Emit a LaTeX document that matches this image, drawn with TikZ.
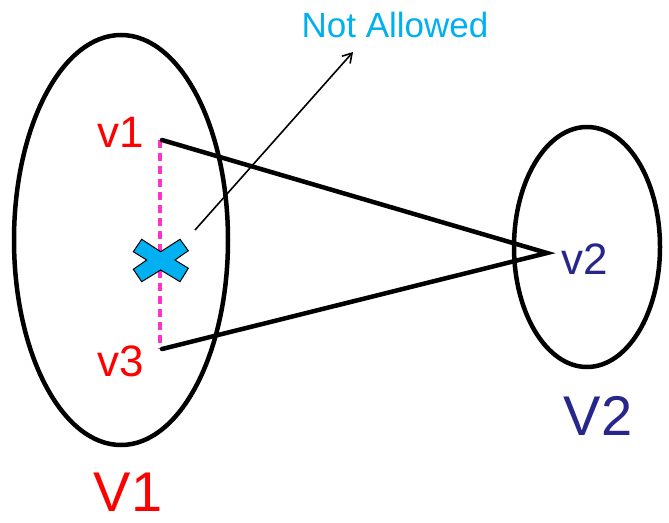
\documentclass[tikz,border=0pt]{standalone}
\usepackage{fontspec}
\setmainfont{Liberation Sans}
\usetikzlibrary{arrows.meta}
\definecolor{vred}{RGB}{255,0,0}
\definecolor{vnavy}{RGB}{38,38,140}
\definecolor{xcyan}{RGB}{0,176,240}
\definecolor{dmag}{RGB}{255,51,204}
\tikzset{
  setellipse/.style={draw=black, line width=4.5pt, fill=white},
  edgeline/.style={draw=black, line width=4.5pt},
  smalllbl/.style={inner sep=0pt, anchor=base, font=\fontsize{44}{48}\selectfont},
  biglbl/.style={inner sep=0pt, anchor=base, font=\fontsize{56}{58}\selectfont},
  notelbl/.style={inner sep=0pt, anchor=base, text=xcyan, font=\fontsize{35}{38}\selectfont},
}
\begin{document}
\begin{tikzpicture}[x=1pt,y=-1pt]
\useasboundingbox (0,0) rectangle (669,522);
\fill[white] (0,0) rectangle (669,522);
% ellipses
\draw[setellipse] (121,240) ellipse [x radius=107, y radius=205];
\draw[setellipse] (587,247) ellipse [x radius=73, y radius=120];
% endpoints
\coordinate (p1) at (162,140);
\coordinate (p3) at (162,349);
\coordinate (p2) at (547,253);
% dashed magenta edge
\draw[dmag, line width=3.5pt, dash pattern=on 8pt off 5pt] (160,140) -- (160,349);
% edges
\draw[edgeline, line cap=round] (p1) -- (p2) -- (p3);
% cross mark
\filldraw[fill=xcyan, draw=black, line width=1pt]
  (133.3,251.7) -- (141.7,239.3) -- (160.7,251.7) -- (180,239.3) -- (188.3,250.7)
  -- (175,260) -- (188.3,268.3) -- (180,281.7) -- (160.7,270) -- (141.7,281.7)
  -- (133.3,269.3) -- (146.7,260) -- cycle;
\coordinate (xm) at (160.7,260);
% label nodes
\node[smalllbl, text=vred] (lv1) at (121,147) {v1};
\node[smalllbl, text=vred] (lv3) at (121,376) {v3};
\node[smalllbl, text=vnavy] (lv2) at (585,274) {v2};
\node[biglbl, text=vred] (lV1) at (128,511) {V1};
\node[biglbl, text=vnavy] (lV2) at (598,435) {V2};
\node[notelbl] (na) at (395,37) {Not Allowed};
% arrow
\coordinate (as) at (195,230);
\coordinate (ae) at (353,52);
\draw[black, line width=1.6pt, -{Straight Barb[length=9pt,width=11pt]}] (as) -- (ae);
\end{tikzpicture}
\end{document}
